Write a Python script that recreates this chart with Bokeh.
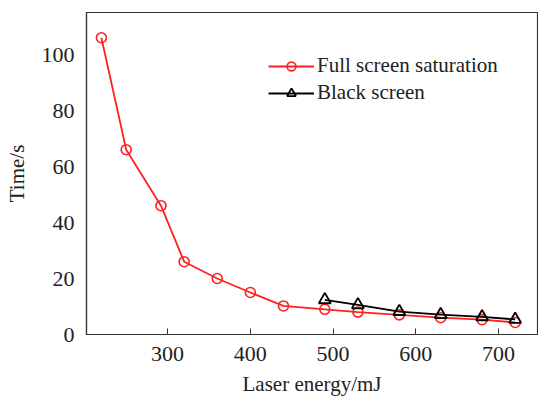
from bokeh.plotting import figure
from bokeh.models import Range1d, Legend, LegendItem, FixedTicker
from bokeh.embed import file_html
from bokeh.resources import INLINE

# Data
full_x = [220, 250, 292, 320, 360, 400, 440, 490, 530, 580, 630, 680, 720]
full_y = [106, 66, 46, 26, 20, 15, 10.2, 9, 8, 7, 6, 5.3, 4.3]
black_x = [490, 530, 580, 630, 680, 720]
black_y = [12.4, 10.6, 8.2, 7.1, 6.3, 5.4]
x_ticks = [300, 400, 500, 600, 700]
y_ticks = [0, 20, 40, 60, 80, 100]

FONT = "Liberation Serif"

p = figure(width=538, height=400, output_backend="svg", toolbar_location=None,
           x_range=Range1d(202, 747), y_range=Range1d(0, 115),
           min_border_left=86, min_border_top=12, min_border_right=1, min_border_bottom=66)

p.xgrid.visible = False
p.ygrid.visible = False
p.outline_line_color = "#333333"
p.outline_line_width = 1.2

r1 = p.line(full_x, full_y, line_color="#ff2020", line_width=1.8)
r1m = p.scatter(full_x, full_y, marker="circle", size=10, line_color="#ff2020",
                fill_color=None, line_width=1.6)
r2 = p.line(black_x, black_y, line_color="black", line_width=1.8)
r2m = p.scatter(black_x, black_y, marker="triangle", size=12, line_color="black",
                fill_color=None, line_width=1.8)

for ax in (p.xaxis[0], p.yaxis[0]):
    ax.axis_line_color = "#333333"
    ax.axis_line_width = 1.2
    ax.major_label_text_font = FONT
    ax.major_label_text_font_size = "22px"
    ax.major_label_text_color = "#222222"
    ax.axis_label_text_font = FONT
    ax.axis_label_text_font_size = "21px"
    ax.axis_label_text_font_style = "normal"
    ax.axis_label_text_color = "#222222"
    ax.minor_tick_line_color = None
    ax.minor_tick_in = 0
    ax.minor_tick_out = 0

p.xaxis.ticker = FixedTicker(ticks=x_ticks)
p.yaxis.ticker = FixedTicker(ticks=y_ticks)
p.xaxis.major_tick_in = 6
p.xaxis.major_tick_out = 0
p.xaxis.major_tick_line_color = "#333333"
p.yaxis.major_tick_line_color = None
p.yaxis.major_tick_in = 0
p.yaxis.major_tick_out = 0
p.xaxis.axis_label = "Laser energy/mJ"
p.yaxis.axis_label = "Time/s"
p.xaxis.major_label_standoff = 12
p.xaxis.axis_label_standoff = 8
p.yaxis.major_label_standoff = 12
p.yaxis.axis_label_standoff = 10

legend = Legend(items=[
    LegendItem(label="Full screen saturation", renderers=[r1, r1m]),
    LegendItem(label="Black screen", renderers=[r2, r2m]),
], location=(182, 229))
legend.label_text_font = FONT
legend.label_text_font_size = "21px"
legend.label_text_color = "#222222"
legend.border_line_color = None
legend.background_fill_alpha = 0
legend.glyph_width = 46
legend.glyph_height = 22
legend.label_height = 22
legend.spacing = 2
legend.padding = 2
legend.label_standoff = 3
p.add_layout(legend, "center")

open("out.html", "w").write(file_html(p, INLINE))
